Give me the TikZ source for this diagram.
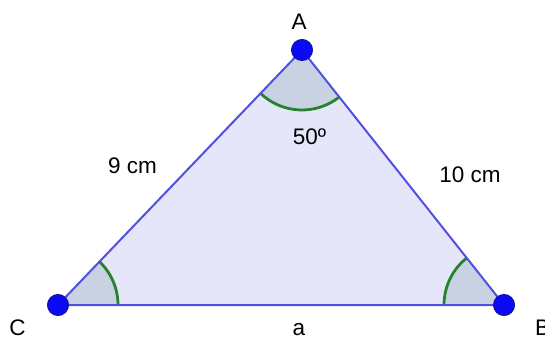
\documentclass[tikz,border=0pt]{standalone}
\usepackage{fontspec}
\setmainfont{Liberation Sans}
\usetikzlibrary{angles,calc}
\definecolor{sideblue}{RGB}{80,80,225}
\definecolor{trifill}{RGB}{230,230,250}
\definecolor{sectfill}{RGB}{200,210,226}
\definecolor{arcgreen}{RGB}{40,130,45}
\definecolor{dotblue}{RGB}{10,10,245}
\definecolor{dotedge}{RGB}{20,20,150}
\tikzset{
  side/.style={draw=sideblue, line width=2pt},
  sector/.style={fill=sectfill, draw=arcgreen, line width=2.8pt, angle radius=60pt},
  vdot/.style={circle, fill=dotblue, draw=dotedge, line width=1pt, minimum size=21pt, inner sep=0pt},
  lbl/.style={anchor=base, inner sep=0pt, font=\fontsize{22.5}{27}\selectfont}
}
\begin{document}
\begin{tikzpicture}[x=1pt,y=1pt]
\useasboundingbox (0,0) rectangle (545,340);
\coordinate (A) at (302,290);
\coordinate (C) at (58,35);
\coordinate (B) at (504,35);
\fill[trifill] (A) -- (B) -- (C) -- cycle;
\pic[sector] {angle = C--A--B};
\pic[sector] {angle = B--C--A};
\pic[sector] {angle = A--B--C};
\draw[side] (A) -- (B) -- (C) -- cycle;
\node[vdot] (dA) at (A) {};
\node[vdot] (dB) at (B) {};
\node[vdot] (dC) at (C) {};
\node[lbl] (lA) at (299,310) {A};
\node[lbl] (lang) at (309.5,195) {50º};
\node[lbl] (l9) at (132.5,166) {9 cm};
\node[lbl] (l10) at (470,157) {10 cm};
\node[lbl] (la) at (299,5) {a};
\node[lbl] (lC) at (17.5,5) {C};
\node[lbl, anchor=base west] (lB) at (535,5) {B};
\end{tikzpicture}
\end{document}
